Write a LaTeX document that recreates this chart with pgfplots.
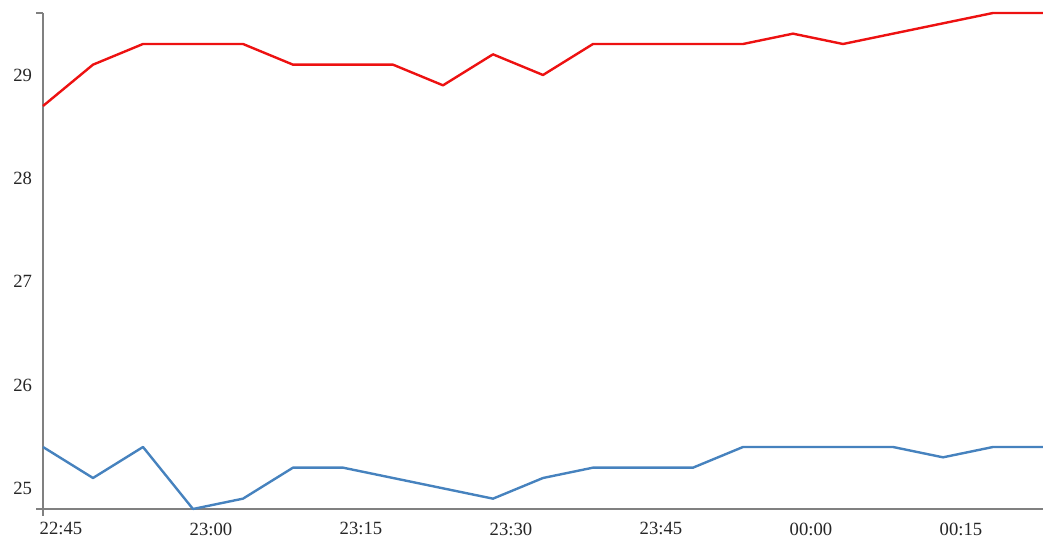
\documentclass[border=0pt]{standalone}
\usepackage{fontspec}
\setmainfont{Liberation Serif}
\usepackage{pgfplots}
\pgfplotsset{compat=1.18}
\definecolor{myred}{RGB}{237,17,17}
\definecolor{myblue}{RGB}{70,130,190}
\definecolor{axgray}{RGB}{128,128,128}
\begin{document}
\begin{tikzpicture}
\useasboundingbox (-32.25pt,-21.75pt) rectangle (750pt,381.75pt);
\begin{axis}[
  at={(0,0)}, anchor=south west,
  scale only axis, width=750pt, height=372pt,
  xmin=43.2, xmax=143.2, ymin=24.8, ymax=29.6,
  axis lines*=left,
  axis line style={axgray, line width=1.5pt, -},
  major tick length=0pt,
  xtick={45,60,75,90,105,120,135},
  xticklabels={22:45,23:00,23:15,23:30,23:45,00:00,00:15},
  ytick={25,26,27,28,29},
  /pgf/number format/assume math mode=true,
  tick label style={font=\fontsize{14}{16}\selectfont, text=black!85},
  yticklabel style={inner sep=0pt, xshift=-8pt},
  xticklabel style={inner sep=0pt, yshift=-10pt},
  clip=false,
]
\addplot[myred, line width=1.8pt, line join=round] coordinates {
(43.2,28.7)(48.2,29.1)(53.2,29.3)(58.2,29.3)(63.2,29.3)(68.2,29.1)(73.2,29.1)
(78.2,29.1)(83.2,28.9)(88.2,29.2)(93.2,29.0)(98.2,29.3)(103.2,29.3)(108.2,29.3)
(113.2,29.3)(118.2,29.4)(123.2,29.3)(128.2,29.4)(133.2,29.5)(138.2,29.6)(143.2,29.6)};
\addplot[myblue, line width=1.8pt, line join=round] coordinates {
(43.2,25.4)(48.2,25.1)(53.2,25.4)(58.2,24.8)(63.2,24.9)(68.2,25.2)(73.2,25.2)
(78.2,25.1)(83.2,25.0)(88.2,24.9)(93.2,25.1)(98.2,25.2)(103.2,25.2)(108.2,25.2)
(113.2,25.4)(118.2,25.4)(123.2,25.4)(128.2,25.4)(133.2,25.3)(138.2,25.4)(143.2,25.4)};
\draw[axgray, line width=1.5pt] ([xshift=-5pt]rel axis cs:0,1) -- (rel axis cs:0,1);
\draw[axgray, line width=1.5pt] ([xshift=-5pt]rel axis cs:0,0) -- (rel axis cs:0,0);
\draw[axgray, line width=1.5pt] (rel axis cs:0,0) -- ([yshift=-5pt]rel axis cs:0,0);
\end{axis}
\end{tikzpicture}
\end{document}
